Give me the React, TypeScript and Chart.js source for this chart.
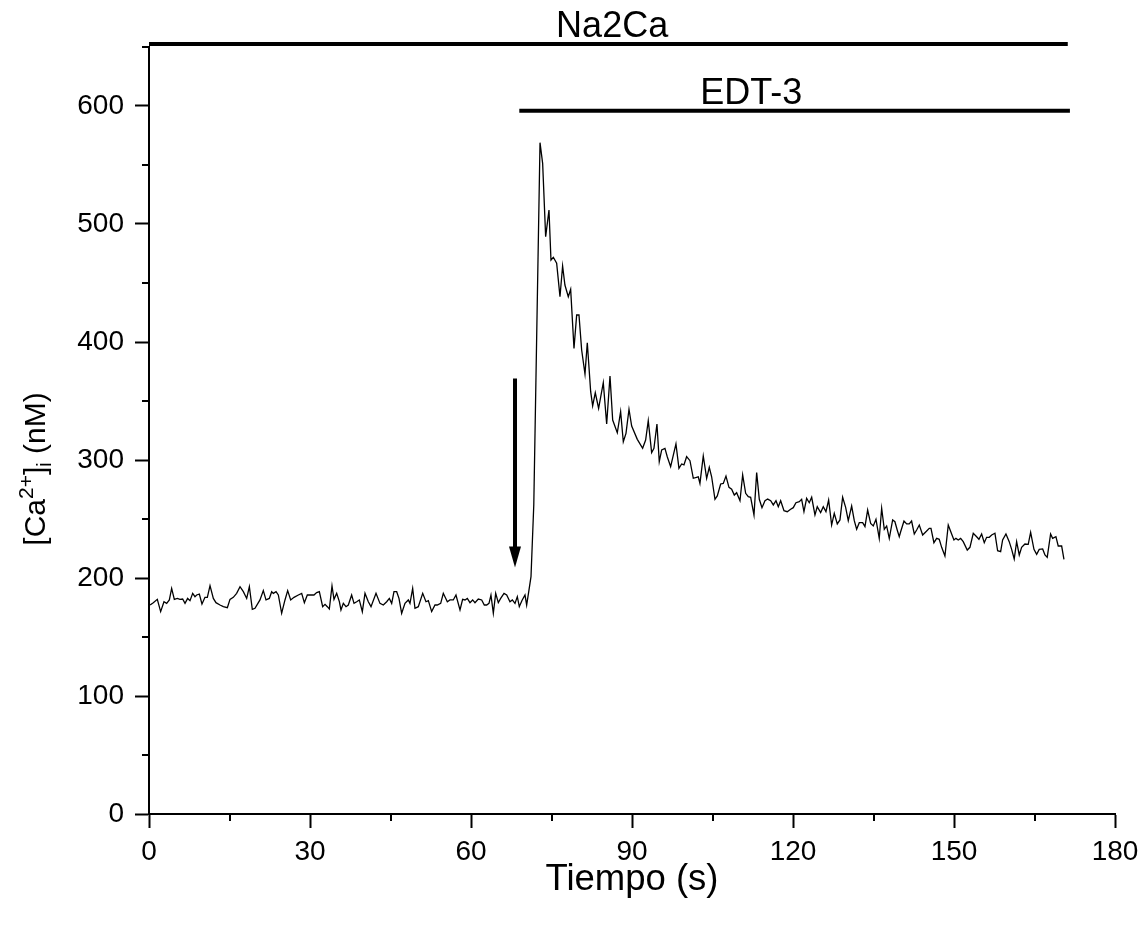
import React, { useEffect, useRef } from 'react';
import { Chart, registerables } from 'chart.js';

Chart.register(...registerables);

// ---- data ----
const timeS = [
  0.2, 0.8, 1.55, 2.17, 2.79, 3.29, 3.79, 4.22, 4.72, 5.28, 5.77, 6.27, 6.71, 7.2, 7.64, 8.14, 8.57, 8.88, 9.38, 9.87,
  10.43, 10.87, 11.37, 11.99, 12.48, 13.23, 13.85, 14.6, 15.09, 15.71, 16.33, 16.96, 17.58, 18.2, 18.7, 19.25, 19.75,
  20.68, 21.3, 21.8, 22.42, 22.86, 23.17, 23.67, 24.1, 24.72, 25.34, 25.84, 26.4, 27.02, 27.83, 28.45, 28.95, 29.5,
  30.12, 30.74, 31.24, 31.74, 32.36, 32.8, 33.23, 33.6, 34.1, 34.47, 34.97, 35.47,
  35.77, 36.21, 36.71, 37.14, 37.76, 38.2, 38.7, 39.19, 39.75, 40.25, 40.87, 41.37, 42.3, 43.04, 43.66, 44.29, 44.78,
  45.22, 45.65, 46.15, 46.58, 47.08, 47.7, 48.32, 48.63, 49.13, 49.56, 50.18, 51.0, 51.61, 52.05, 52.67, 53.29, 53.72,
  54.35, 54.84, 55.59, 56.08, 56.7, 57.2, 57.95, 58.44, 58.88, 59.31, 59.81, 60.31, 60.74, 61.36, 61.99, 62.48, 62.92,
  63.35, 63.72, 64.16, 64.6, 65.09, 65.53, 66.15, 66.65, 67.26, 67.7, 68.2, 68.63, 69.0, 69.5, 70.06, 70.37, 70.8,
  71.18, 71.7, 72.86, 73.35, 73.91, 74.53, 74.9, 75.34, 75.96, 76.58, 77.07, 77.5, 78.13, 78.57, 79.19, 79.69, 80.12,
  80.62, 81.24, 81.67, 82.3, 82.67, 83.16, 83.78, 84.65, 85.28, 85.9, 86.4, 87.26, 87.88, 88.38, 88.88, 89.44, 89.94,
  90.99, 91.98, 92.54, 93.03, 93.66, 94.09, 94.65, 95.08, 95.53, 96.14, 96.57, 97.2, 98.19, 98.75, 99.25, 99.68,
  100.18, 100.8, 101.42, 102.35, 102.66, 103.28, 103.91, 104.4, 104.84, 105.46, 105.89, 106.52, 107.01, 107.51,
  108.07, 108.57, 109.06, 109.5, 110.12, 110.62, 111.18, 111.67, 112.11, 112.73, 113.23, 113.72, 114.22, 114.78,
  115.28, 115.84, 116.33, 116.83, 117.26, 117.7, 118.32, 118.93, 119.56, 120.05, 120.55, 121.17, 121.61, 122.04,
  122.54, 123.03, 123.48, 124.09, 124.52, 125.15, 125.64, 126.14, 126.64, 127.2, 127.69, 128.25, 128.75, 129.25,
  129.81, 130.3, 130.93, 131.42, 131.86, 132.35, 132.98, 133.41, 133.91, 134.47, 134.96, 135.46, 136.07, 136.52,
  137.01, 137.45, 137.94, 138.57, 138.99, 139.42, 139.8, 140.06, 140.68, 141.18, 141.66, 142.1, 142.6, 143.04,
  143.53, 144.16, 144.77, 145.39, 145.71, 146.26, 146.77, 147.25, 147.7, 148.31, 148.93, 149.56, 149.99, 150.36,
  150.79, 151.24, 151.72, 152.47, 152.97, 153.59, 154.22, 154.65, 155.15, 155.64, 156.08, 156.57, 157.02, 157.63,
  158.13, 158.69, 159.06, 159.68, 160.29, 160.74, 161.22, 161.67, 162.16, 162.6, 163.22, 163.83, 164.28, 164.9,
  165.4, 165.88, 166.52, 166.95, 167.37, 168.0, 168.38, 168.99, 169.42, 170.06, 170.49,
];

const caNM = [
  177.1, 179.1, 181.9, 171.5, 179.9, 178.5, 181.4, 191.2, 181.9, 182.7, 181.9, 182.2, 178.5, 182.7, 180.8, 187.0, 184.2, 185.6, 186.4, 178.0,
  183.6, 183.6, 193.5, 182.7, 179.1, 177.1, 175.7, 174.9, 181.9, 183.6, 187.0, 192.6, 188.4, 182.7, 192.6, 173.4, 174.3,
  181.4, 189.3, 181.4, 182.7, 188.4, 187.0, 188.4, 185.6, 170.1, 181.4, 189.3, 181.4, 183.6, 185.6, 187.0, 179.1, 185.6,
  185.6, 185.6, 187.6, 188.4, 175.7, 177.7, 175.7, 173.7, 193.2, 181.9, 187.0, 180.0,
  172.9, 178.5, 175.7, 177.1, 185.6, 178.5, 179.9, 181.4, 171.5, 187.0, 179.9, 175.7, 187.0, 178.5, 177.1, 179.9, 182.7,
  178.5, 188.4, 188.4, 182.7, 170.1, 178.5, 181.4, 178.5, 191.2, 174.3, 175.7, 187.0, 179.9, 180.8, 171.5, 177.1, 177.1,
  178.5, 187.0, 179.9, 181.4, 181.4, 185.6, 172.9, 181.9, 181.4, 182.7, 179.1, 181.4, 179.1, 182.2, 181.4, 177.1, 177.1,
  178.5, 185.6, 170.1, 187.0, 179.1, 182.7, 187.0, 185.6, 179.9, 181.4, 178.5, 184.2, 175.7, 181.0, 185.6, 177.1, 189.8,
  201.1, 262.0, 568.9, 551.4, 489.3, 511.9, 469.5, 471.8, 466.7, 438.4, 464.4, 448.3, 438.4, 444.6, 394.6, 422.9, 422.9,
  393.2, 372.9, 399.4, 357.9, 345.8, 357.0, 343.8, 365.5, 330.5, 371.2, 333.9, 323.1, 341.0, 315.5, 322.6, 343.0, 328.8,
  317.5, 309.9, 316.9, 333.3, 306.2, 309.9, 330.5, 298.6, 308.5, 309.9, 302.8, 294.3, 313.6, 293.0, 296.6, 295.8,
  302.8, 299.4, 284.5, 285.8, 280.2, 303.4, 284.5, 293.8, 285.8, 266.7, 269.5, 279.7, 280.2, 286.4,
  276.8, 275.2, 270.3, 272.3, 265.5, 287.3, 271.8, 268.9, 268.4, 253.4, 289.3, 266.7, 259.6, 265.5,
  266.9, 265.5, 261.9, 265.5, 260.4, 265.5, 257.0, 256.2, 258.2, 259.6, 263.8, 264.7, 266.7, 256.2,
  267.5, 263.8, 268.4, 253.4, 260.4, 255.4, 260.4, 256.2, 266.1, 244.9, 254.8, 245.8, 249.2, 268.4,
  259.9, 248.6, 261.0, 248.6, 241.3, 246.9, 246.9, 243.5, 257.6, 246.3, 244.1, 249.7, 233.6, 259.1,
  241.3, 244.1, 233.6, 249.2, 247.7, 240.7, 235.0, 239.2, 248.3, 245.8, 245.8, 248.3, 237.3, 240.7,
  244.9, 236.4, 239.2, 242.1, 242.1, 229.9, 233.6, 232.8, 226.0, 218.6, 244.9, 237.3, 232.2, 233.6,
  232.2, 233.6, 230.8, 223.7, 226.0, 237.9, 235.0, 232.8, 237.3, 229.9, 234.5, 234.5, 236.4, 237.9,
  223.1, 222.3, 232.2, 237.3, 230.8, 224.3, 216.1, 230.8, 219.5, 226.0, 228.8, 228.5, 238.7, 224.3,
  220.1, 224.3, 224.6, 219.5, 217.5, 237.3, 233.6, 235.0, 227.1, 227.1, 215.8,
];

const xTicks = [0, 30, 60, 90, 120, 150, 180];
const xMinorTicks = [15, 45, 75, 105, 135, 165];
const yTicks = [0, 100, 200, 300, 400, 500, 600];
const yMinorTicks = [50, 150, 250, 350, 450, 550, 650];

// treatment bars
const na2caLabel = 'Na2Ca';
const na2caBarX = [0, 171.2];
const na2caBarY = 652.5;
const na2caLabelX = 86.3;

const edtLabel = 'EDT-3';
const edtBarX = [69, 171.6];
const edtBarY = 596;
const edtLabelX = 112.2;

// arrow (application point)
const arrowX = 68.2;
const arrowFromY = 369;
const arrowToY = 209;

const FONT = "'Liberation Sans', Arial, Helvetica, sans-serif";

const extrasPlugin = {
  id: 'extras',
  afterDraw(chart: any) {
    const ctx = chart.ctx;
    const xs = chart.scales.x;
    const ys = chart.scales.y;
    ctx.save();
    ctx.strokeStyle = '#000';
    ctx.fillStyle = '#000';
    ctx.lineWidth = 2;
    // minor ticks
    ctx.beginPath();
    for (const v of xMinorTicks) {
      const px = Math.round(xs.getPixelForValue(v));
      ctx.moveTo(px, ys.bottom);
      ctx.lineTo(px, ys.bottom + 7);
    }
    for (const v of yMinorTicks) {
      const py = Math.round(ys.getPixelForValue(v));
      ctx.moveTo(xs.left, py);
      ctx.lineTo(xs.left - 7, py);
    }
    ctx.stroke();

    // arrow
    const ax = xs.getPixelForValue(arrowX);
    const ay0 = ys.getPixelForValue(arrowFromY);
    const ay1 = ys.getPixelForValue(arrowToY);
    const head = 21;
    ctx.lineWidth = 4;
    ctx.beginPath();
    ctx.moveTo(ax, ay0);
    ctx.lineTo(ax, ay1 - head + 2);
    ctx.stroke();
    ctx.beginPath();
    ctx.moveTo(ax - 6, ay1 - head);
    ctx.lineTo(ax + 6, ay1 - head);
    ctx.lineTo(ax, ay1);
    ctx.closePath();
    ctx.fill();

    // bar labels
    ctx.font = `36px ${FONT}`;
    ctx.textAlign = 'center';
    ctx.textBaseline = 'alphabetic';
    ctx.fillText(na2caLabel, xs.getPixelForValue(na2caLabelX), ys.getPixelForValue(na2caBarY) - 7);
    ctx.fillText(edtLabel, xs.getPixelForValue(edtLabelX), ys.getPixelForValue(edtBarY) - 7);

    // y axis title with super/subscript
    const big = 30;
    const small = 21;
    const parts = [
      { t: '[Ca', s: big, dy: 0 },
      { t: '2+', s: small, dy: -12 },
      { t: ']', s: big, dy: 0 },
      { t: 'i', s: 20, dy: 6 },
      { t: ' (nM)', s: big, dy: 0 },
    ];
    let total = 0;
    for (const p of parts) {
      ctx.font = `${p.s}px ${FONT}`;
      total += ctx.measureText(p.t).width;
    }
    ctx.translate(45, 469);
    ctx.rotate(-Math.PI / 2);
    ctx.textAlign = 'left';
    let cx = -total / 2;
    for (const p of parts) {
      ctx.font = `${p.s}px ${FONT}`;
      ctx.fillText(p.t, cx, p.dy);
      cx += ctx.measureText(p.t).width;
    }
    ctx.restore();
  },
};

export default function App() {
  const ref = useRef<HTMLCanvasElement | null>(null);
  useEffect(() => {
    const canvas = ref.current;
    if (!canvas) return;
    const trace = timeS.map((t, i) => ({ x: t, y: caNM[i] }));
    const chart = new Chart(canvas, {
      type: 'line',
      data: {
        datasets: [
          {
            data: trace,
            borderColor: '#000',
            borderWidth: 1.3,
            pointRadius: 0,
            tension: 0,
          },
          {
            data: na2caBarX.map((x) => ({ x, y: na2caBarY })),
            borderColor: '#000',
            borderWidth: 4,
            pointRadius: 0,
            clip: false,
          } as any,
          {
            data: edtBarX.map((x) => ({ x, y: edtBarY })),
            borderColor: '#000',
            borderWidth: 4,
            pointRadius: 0,
            clip: false,
          } as any,
        ],
      },
      options: {
        responsive: false,
        animation: false,
        events: [],
        layout: { padding: { top: 47, right: 31, left: 0, bottom: 0 } },
        plugins: { legend: { display: false }, tooltip: { enabled: false } },
        scales: {
          x: {
            type: 'linear',
            min: 0,
            max: 180,
            afterBuildTicks: (s: any) => {
              s.ticks = xTicks.map((v) => ({ value: v }));
            },
            afterFit: (s: any) => {
              s.height = 113;
            },
            border: { display: true, color: '#000', width: 2 },
            grid: { drawOnChartArea: false, drawTicks: true, tickLength: 14, tickColor: '#000', tickWidth: 2 },
            ticks: { color: '#000', font: { family: FONT, size: 28 }, padding: 7, maxRotation: 0, autoSkip: false },
            title: {
              display: true,
              text: 'Tiempo (s)',
              color: '#000',
              font: { family: FONT, size: 36.5 },
              padding: { top: 0, bottom: 25 },
            },
          },
          y: {
            type: 'linear',
            min: 0,
            max: 650,
            afterBuildTicks: (s: any) => {
              s.ticks = yTicks.map((v) => ({ value: v }));
            },
            afterFit: (s: any) => {
              s.width = 149;
            },
            border: { display: true, color: '#000', width: 2 },
            grid: { drawOnChartArea: false, drawTicks: true, tickLength: 14, tickColor: '#000', tickWidth: 2 },
            ticks: { color: '#000', font: { family: FONT, size: 28 }, padding: 11, autoSkip: false },
          },
        },
      },
      plugins: [extrasPlugin],
    });
    return () => chart.destroy();
  }, []);
  return (
    <div style={{ position: 'absolute', left: 0, top: 0, width: 1146, height: 927, background: '#fff' }}>
      <canvas ref={ref} width={1146} height={927} style={{ display: 'block' }} />
    </div>
  );
}
